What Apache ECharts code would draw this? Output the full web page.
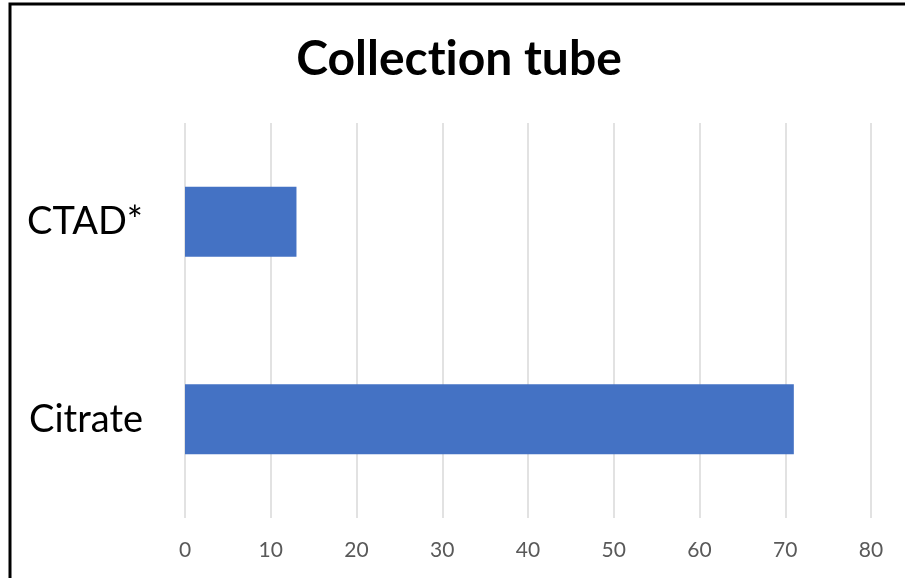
<!DOCTYPE html>
<html>
<head>
<meta charset="utf-8">
<style>
  html, body { margin: 0; padding: 0; background: #fff; }
  #chart { width: 905px; height: 578px; }
</style>
<script src="https://cdn.jsdelivr.net/npm/echarts@6/dist/echarts.min.js"></script>
</head>
<body>
<div id="chart"></div>
<script>
// Collection tube counts by tube type
const categories = ['Citrate', 'CTAD*'];
const values = [71, 13];
const xTicks = { min: 0, max: 80, interval: 10 };
// Title drawn in two rich-text runs so "t" and "i" stay separate glyphs
const titleParts = ['Collect', 'ion tube'];

const titleFont = {
  fontFamily: 'Lato',
  fontWeight: 'bold',
  fontSize: 48,
  color: '#000000'
};

const chart = echarts.init(document.getElementById('chart'), null, { renderer: 'canvas' });

chart.setOption({
  backgroundColor: '#ffffff',
  animation: false,
  title: {
    text: titleParts.map(p => '{t|' + p + '}').join(''),
    left: 454,
    textAlign: 'center',
    top: 31,
    textStyle: Object.assign({}, titleFont, { rich: { t: titleFont } })
  },
  graphic: [{
    type: 'rect',
    shape: { x: 10, y: 4, width: 1000, height: 1000 },
    style: { fill: 'none', stroke: '#000000', lineWidth: 3 },
    silent: true
  }],
  grid: { left: 185, right: 34, top: 123, bottom: 60, containLabel: false },
  xAxis: {
    type: 'value',
    min: xTicks.min,
    max: xTicks.max,
    interval: xTicks.interval,
    axisLine: { show: false },
    axisTick: { show: false },
    axisLabel: {
      margin: 22,
      fontFamily: 'Lato',
      fontSize: 21,
      color: '#595959'
    },
    splitLine: { show: true, lineStyle: { color: '#d9d9d9', width: 1.5 } }
  },
  yAxis: {
    type: 'category',
    data: categories,
    axisLine: { show: false },
    axisTick: { show: false },
    axisLabel: {
      margin: 42,
      fontFamily: 'Lato',
      fontSize: 38,
      color: '#000000'
    }
  },
  series: [{
    type: 'bar',
    data: values,
    barWidth: '35.4%',
    itemStyle: { color: '#4472c4' }
  }]
});
</script>
</body>
</html>
